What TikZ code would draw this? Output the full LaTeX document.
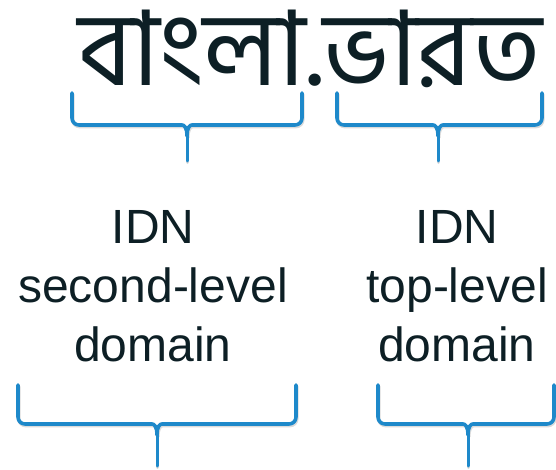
\documentclass[tikz,border=0pt]{standalone}
\usepackage{fontspec}
\setmainfont{Liberation Sans}
\newfontfamily\bnfont[Script=Bengali]{Hind Siliguri}
\definecolor{inkdark}{RGB}{13,31,37}
\definecolor{braceblue}{RGB}{30,137,202}

\tikzset{
  brace line/.style={draw=braceblue, line width=3.6pt, line cap=round, line join=round},
  brace shade/.style={draw=black!35, opacity=0.4, line width=3.6pt, line cap=round, line join=round},
  label text/.style={text=inkdark, font=\fontsize{48}{59}\selectfont, align=center, inner sep=0pt, anchor=north}
}

% left, right, top, horizontal, centre, tip
\newcommand\domainbrace[6]{%
  \foreach \st/\sh in {brace shade/{(0.8,1.6)}, brace line/{(0,0)}} {
    \draw[\st, shift=\sh] (#1,#3) [rounded corners=7pt] -- (#1,#4) -- (#5-12,#4) [sharp corners]
        .. controls (#5-3,#4) and (#5,#4+2) .. (#5,#4+11)
      (#2,#3) [rounded corners=7pt] -- (#2,#4) -- (#5+12,#4) [sharp corners]
        .. controls (#5+3,#4) and (#5,#4+2) .. (#5,#4+11);
    \draw[\st, line width=3pt, shift=\sh] (#5,#4+9) -- (#5,#6);
  }%
}

\begin{document}
\begin{tikzpicture}[x=1pt, y=-1pt]

\useasboundingbox (0,0) rectangle (556,470);

\node[text=inkdark, font=\bnfont\fontsize{104}{104}\selectfont, anchor=base, inner sep=0pt] (idnname) at (310,86) {বাংলা.ভারত};

% upper braces
\domainbrace{72}{302}{93}{125}{187}{161}
\domainbrace{337}{542}{93}{125}{438}{161}

\node[label text] (sldtext) at (153,210.5) {IDN\\second-level\\domain};
\node[label text] (tldtext) at (457,210.5) {IDN\\top-level\\domain};

% lower braces
\domainbrace{18}{296}{385}{424}{157}{466}
\domainbrace{378}{554}{385}{424}{468}{466}

\end{tikzpicture}
\end{document}
